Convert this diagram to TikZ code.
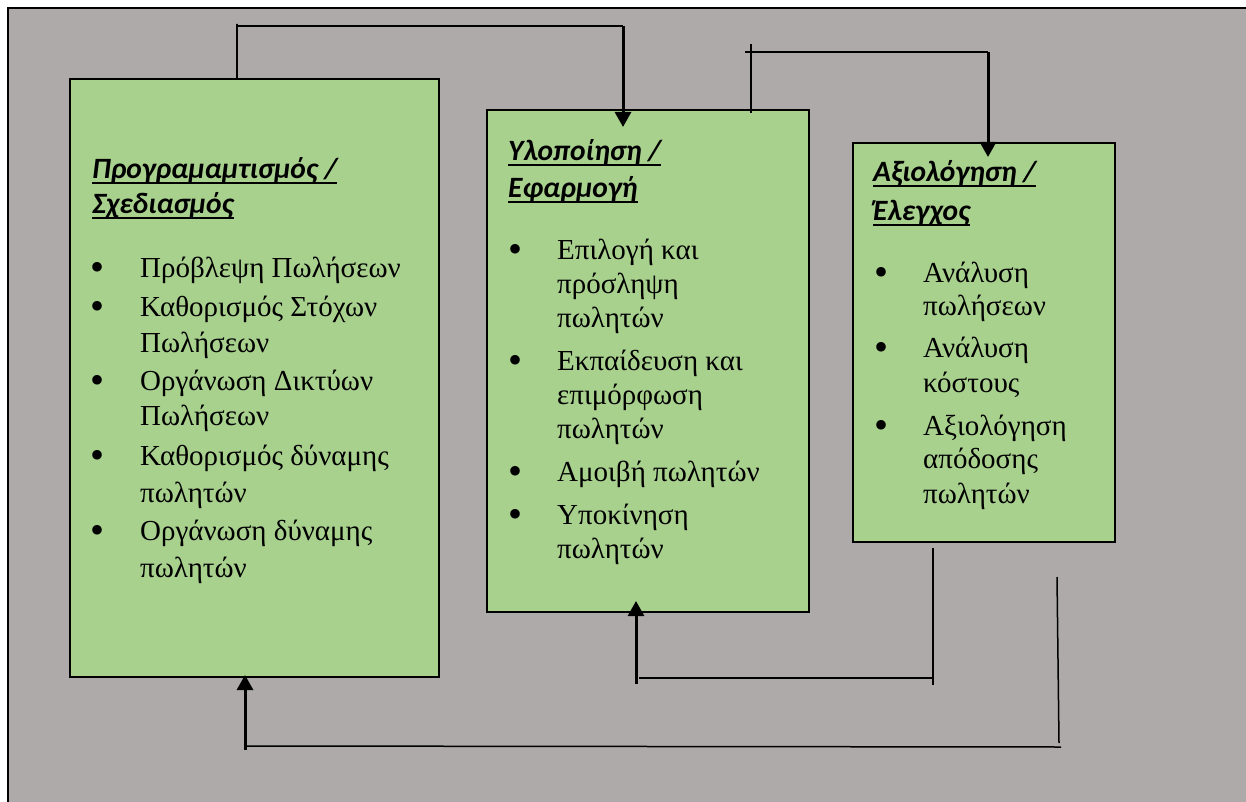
\documentclass[tikz,border=0pt]{standalone}
\usepackage{fontspec}
\setmainfont{Liberation Serif}
\newfontfamily\hdfont{Carlito}
\usetikzlibrary{arrows.meta}
\definecolor{bggray}{HTML}{AEAAAA}
\definecolor{boxgreen}{HTML}{A9D18E}
\newcommand\hdul[1]{\setbox0\hbox{#1}\rlap{\rule[-5.5pt]{\wd0}{2.5pt}}\box0}
\begin{document}
\begin{tikzpicture}[x=1pt,y=-1pt,
  panel/.style={draw=black,line width=2.5pt,fill=boxgreen,anchor=north west,inner sep=0pt,outer sep=0pt},
  head/.style={anchor=base west,inner sep=0pt,font=\hdfont\bfseries\itshape\fontsize{29.5}{34}\selectfont},
  item/.style={anchor=base west,inner sep=0pt,font=\fontsize{29}{34}\selectfont},
  bul/.style={anchor=base,inner sep=0pt,text height=0pt,text depth=0pt,font=\fontsize{40}{40}\selectfont},
  wire/.style={line width=1.5pt,draw=black},
  arr/.style={line width=3pt,draw=black,-{Triangle[width=16pt,length=15pt]}}]
\useasboundingbox (0,0) rectangle (1246,802);
\fill[white] (0,0) rectangle (1246,802);
\fill[bggray] (8,8) rectangle (1246,802);
\draw[line width=2.5pt] (8,802) -- (8,8) -- (1246,8);

% panels
\node[panel,minimum width=369pt,minimum height=598pt] (plan) at (70,79) {};
\node[panel,minimum width=322pt,minimum height=502pt] (impl) at (487,110) {};
\node[panel,minimum width=262pt,minimum height=399pt] (eval) at (853,143) {};

% headers
\node[head] (h1a) at (92,179) {\hdul{Προγραμαμτισμός /}};
\node[head] (h1b) at (92,214) {\hdul{Σχεδιασμός}};
\node[head] (h2a) at (508,161) {\hdul{Υλοποίηση /}};
\node[head] (h2b) at (508,198) {\hdul{Εφαρμογή}};
\node[head] (h3a) at (873,182) {\hdul{Αξιολόγηση /}};
\node[head] (h3b) at (873,221) {\hdul{Έλεγχος}};

% left items
\foreach \y/\t [count=\i] in {277/Πρόβλεψη Πωλήσεων,316/Καθορισμός Στόχων,352/Πωλήσεων,390/Οργάνωση Δικτύων,425/Πωλήσεων,465/Καθορισμός δύναμης,502/πωλητών,540/Οργάνωση δύναμης,577/πωλητών}
  \node[item] (pl\i) at (140,\y) {\t};
\foreach \y [count=\i] in {277,316,390,465,540}
  \node[bul] (pb\i) at (98,\y+3) {•};

% middle items
\foreach \y/\t [count=\i] in {259/Επιλογή και,293/πρόσληψη,327/πωλητών,370/Εκπαίδευση και,404/επιμόρφωση,438/πωλητών,481/Αμοιβή πωλητών,524/Υποκίνηση,558/πωλητών}
  \node[item] (il\i) at (557,\y) {\t};
\foreach \y [count=\i] in {259,370,481,524}
  \node[bul] (ib\i) at (515,\y+3) {•};

% right items
\foreach \y/\t [count=\i] in {282/Ανάλυση,315/πωλήσεων,357/Ανάλυση,392/κόστους,435/Αξιολόγηση,468/απόδοσης,503/πωλητών}
  \node[item] (el\i) at (923,\y) {\t};
\foreach \y [count=\i] in {282,357,435}
  \node[bul] (eb\i) at (881,\y+3) {•};

% connector plan -> impl
\coordinate (a1) at (237,24);
\coordinate (a2) at (623,26);
\coordinate (a3) at (623,127);
\draw[wire] (plan.north -| a1) -- (a1) |- (a2);
\draw[arr] (a2) -- (a3);

% connector impl -> eval
\coordinate (b0) at (751,113);
\coordinate (b1) at (751,44);
\coordinate (b2) at (745,52);
\coordinate (b3) at (988,52);
\coordinate (b4) at (988,157);
\draw[wire] (b0) -- (b1);
\draw[wire] (b2) -- (b3);
\draw[arr] (b3) -- (b4);

% connector eval -> impl
\coordinate (c1) at (933,685);
\coordinate (c2) at (639,678);
\coordinate (c3) at (636,684);
\coordinate (c4) at (636,601);
\draw[wire] (eval.south -| c1) ++(0,6) -- (c1);
\draw[wire] (c2) -- (c2 -| c1);
\draw[arr] (c3) -- (c4);

% connector eval -> plan
\coordinate (d1) at (1057,577);
\coordinate (d2) at (1059,743);
\coordinate (d3) at (247,746);
\coordinate (d4) at (1061,747);
\coordinate (d5) at (245,750);
\coordinate (d6) at (245,675);
\draw[wire] (d1) -- (d2);
\draw[wire] (d3) -- (d4);
\draw[arr] (d5) -- (d6);
\end{tikzpicture}
\end{document}
